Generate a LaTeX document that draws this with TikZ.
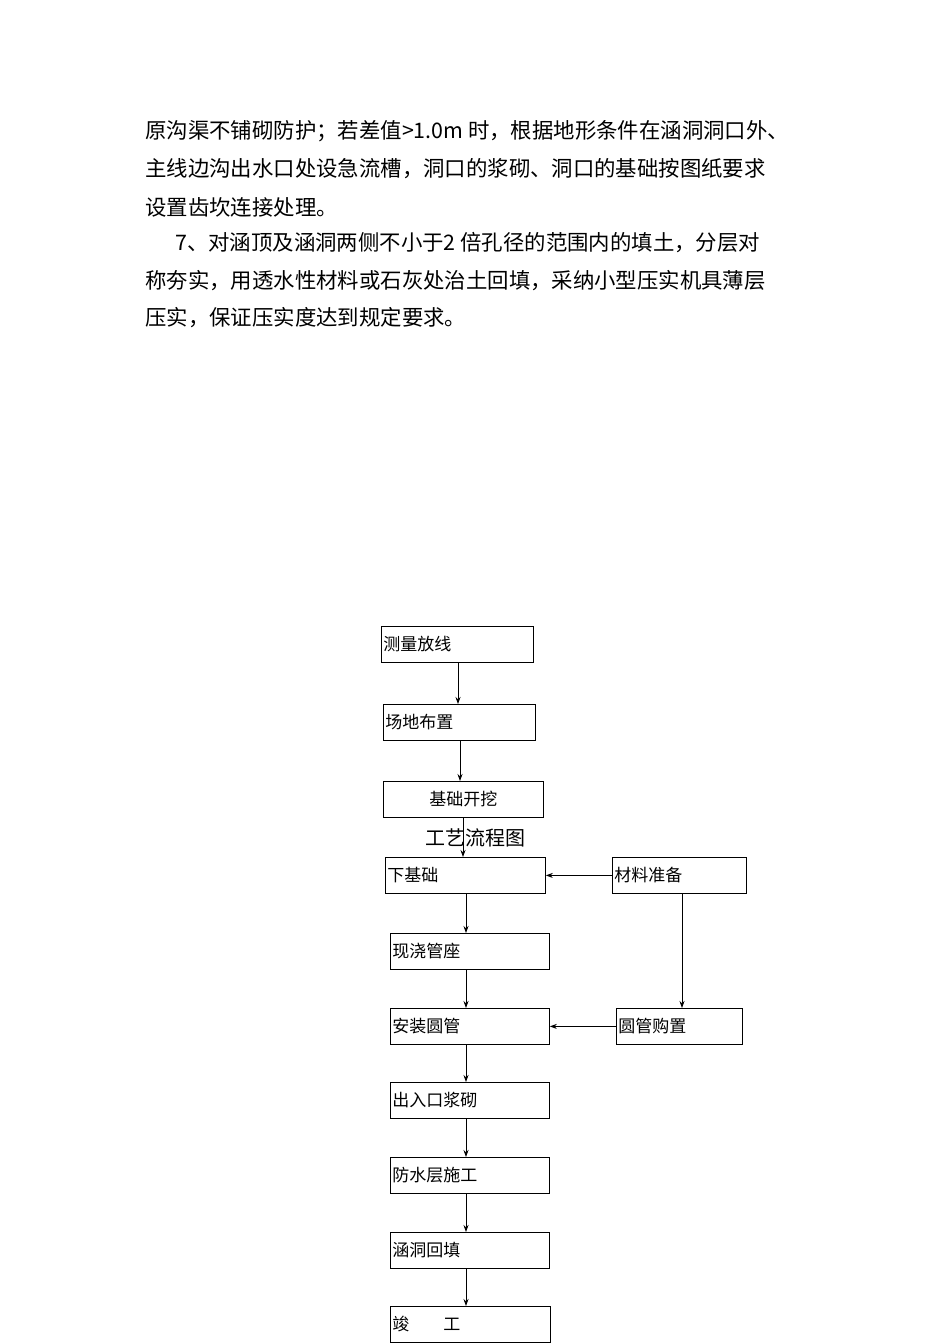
\documentclass[tikz,border=0pt]{standalone}
\usepackage{fontspec}
\setmainfont{Noto Sans CJK SC}
\newfontfamily\cjk{Noto Sans CJK SC}
\usetikzlibrary{arrows.meta}
\begin{document}
\begin{tikzpicture}[x=1pt,y=-1pt,
  bx/.style={draw,thick,minimum height=36pt,anchor=north west,inner sep=1pt,font=\cjk\fontsize{17}{17}\selectfont},
  ar/.style={-{Stealth[length=7pt,width=5pt]},thick},
  para/.style={anchor=west,font=\cjk\fontsize{21.4}{21}\selectfont,inner sep=0}]
\useasboundingbox (0,0) rectangle (950,1344);
\node[para] (t1) at (145,131) {原沟渠不铺砌防护；若差值>1.0m 时，根据地形条件在涵洞洞口外、};
\node[para] (t2) at (145,169) {主线边沟出水口处设急流槽，洞口的浆砌、洞口的基础按图纸要求};
\node[para] (t3) at (145,207) {设置齿坎连接处理。};
\node[para] (t4) at (175,243) {7、对涵顶及涵洞两侧不小于2 倍孔径的范围内的填土，分层对};
\node[para] (t5) at (145,281) {称夯实，用透水性材料或石灰处治土回填，采纳小型压实机具薄层};
\node[para] (t6) at (145,318) {压实，保证压实度达到规定要求。};

\node[bx,minimum width=152pt,text width=148pt,align=left] (a) at (381,626) {测量放线};
\node[bx,minimum width=152pt,text width=148pt,align=left] (b) at (383,704) {场地布置};
\node[bx,minimum width=160pt,text width=156pt,align=center] (c) at (383,781) {基础开挖};
\node[font=\cjk\fontsize{20}{20}\selectfont] (title) at (475,838) {工艺流程图};
\node[bx,minimum width=160pt,text width=156pt,align=left] (d) at (385,857) {下基础};
\node[bx,minimum width=134pt,text width=130pt,align=left] (m) at (612,857) {材料准备};
\node[bx,minimum width=159pt,text width=155pt,align=left] (e) at (390,933) {现浇管座};
\node[bx,minimum width=159pt,text width=155pt,align=left] (f) at (390,1008) {安装圆管};
\node[bx,minimum width=126pt,text width=122pt,align=left] (p) at (616,1008) {圆管购置};
\node[bx,minimum width=159pt,text width=155pt,align=left] (g) at (390,1082) {出入口浆砌};
\node[bx,minimum width=159pt,text width=155pt,align=left] (h) at (390,1157) {防水层施工};
\node[bx,minimum width=159pt,text width=155pt,align=left] (i) at (390,1232) {涵洞回填};
\node[bx,minimum width=160pt,text width=156pt,align=left] (j) at (390,1306) {竣\hspace{2em}工};

\draw[ar] (458,662) -- (458,704);
\draw[ar] (460,740) -- (460,781);
\draw[ar] (463,818) -- (463,857);
\draw[ar] (466,894) -- (466,933);
\draw[ar] (466,970) -- (466,1008);
\draw[ar] (466,1045) -- (466,1082);
\draw[ar] (466,1119) -- (466,1157);
\draw[ar] (466,1194) -- (466,1232);
\draw[ar] (466,1268) -- (466,1306);
\draw[ar] (m.west) -- (d.east);
\draw[ar] (682,893) -- (682,1008);
\draw[ar] (p.west) -- (f.east);
\end{tikzpicture}
\end{document}
